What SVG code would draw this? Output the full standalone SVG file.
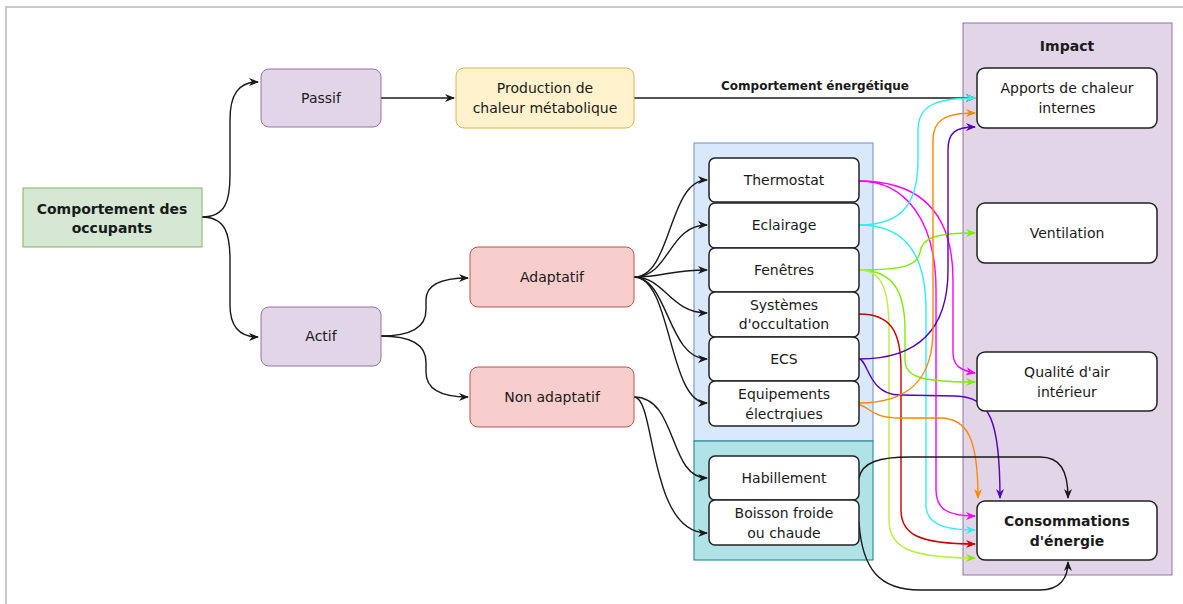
<svg xmlns="http://www.w3.org/2000/svg" width="1183" height="604" viewBox="0 0 1183 604">
<defs>
<style>
text{font-family:"DejaVu Sans","Liberation Sans",Arial,sans-serif;font-size:14px;fill:#1a1a1a;text-anchor:middle}
.b{font-weight:bold}
.lbl{font-size:12px;font-weight:bold}
.c{fill:none;stroke-width:1.4}
.k{stroke:#1a1a1a}
.n{fill:#fff;stroke:#222;stroke-width:1.5}
</style>
<marker id="ak" viewBox="0 0 10 8" refX="9" refY="4" markerWidth="10" markerHeight="8" markerUnits="userSpaceOnUse" orient="auto"><path d="M0,0 L10,4 L0,8 L3,4 Z" fill="#1a1a1a"/></marker>
<marker id="am" viewBox="0 0 10 8" refX="9" refY="4" markerWidth="10" markerHeight="8" markerUnits="userSpaceOnUse" orient="auto"><path d="M0,0 L10,4 L0,8 L3,4 Z" fill="#ff00ff"/></marker>
<marker id="ac" viewBox="0 0 10 8" refX="9" refY="4" markerWidth="10" markerHeight="8" markerUnits="userSpaceOnUse" orient="auto"><path d="M0,0 L10,4 L0,8 L3,4 Z" fill="#33eeee"/></marker>
<marker id="ag" viewBox="0 0 10 8" refX="9" refY="4" markerWidth="10" markerHeight="8" markerUnits="userSpaceOnUse" orient="auto"><path d="M0,0 L10,4 L0,8 L3,4 Z" fill="#80ee00"/></marker>
<marker id="ar" viewBox="0 0 10 8" refX="9" refY="4" markerWidth="10" markerHeight="8" markerUnits="userSpaceOnUse" orient="auto"><path d="M0,0 L10,4 L0,8 L3,4 Z" fill="#cc0000"/></marker>
<marker id="ap" viewBox="0 0 10 8" refX="9" refY="4" markerWidth="10" markerHeight="8" markerUnits="userSpaceOnUse" orient="auto"><path d="M0,0 L10,4 L0,8 L3,4 Z" fill="#5500bb"/></marker>
<marker id="ao" viewBox="0 0 10 8" refX="9" refY="4" markerWidth="10" markerHeight="8" markerUnits="userSpaceOnUse" orient="auto"><path d="M0,0 L10,4 L0,8 L3,4 Z" fill="#ff8800"/></marker>
</defs>
<rect width="1183" height="604" fill="#fff"/>
<path d="M6,604 L6,7 L1183,7" fill="none" stroke="#c8c8c8" stroke-width="2"/>

<g id="containers">
<rect id="impact" x="963" y="23" width="209" height="552" fill="#e1d5e7" stroke="#9673a6" stroke-width="1"/>
<text class="b" x="1067" y="51">Impact</text>
<rect id="adaptatif-group" x="694" y="143" width="179" height="298" fill="#dae8fc" stroke="#6c8ebf" stroke-width="1"/>
<rect id="nonadaptatif-group" x="694" y="441" width="179" height="119" fill="#b0e3e6" stroke="#0e8088" stroke-width="1"/>
</g>

<g id="connectors">
<path class="c k" d="M202,217 C226,217 230,200 230,175 L230,120 C230,95 238,82 258,82" marker-end="url(#ak)"/>
<path class="c k" d="M202,217 C226,217 230,235 230,260 L230,305 C230,325 238,337 258,337" marker-end="url(#ak)"/>
<path class="c k" d="M381,98 L454,98" marker-end="url(#ak)"/>
<path class="c k" d="M381,336 C405,336 426,330 426,310 L426,300 C426,285 440,278 468,278" marker-end="url(#ak)"/>
<path class="c k" d="M381,336 C405,336 426,342 426,362 L426,372 C426,388 440,397 468,397" marker-end="url(#ak)"/>
<path class="c k" d="M634,277 C672,277 668,180 707,180" marker-end="url(#ak)"/>
<path class="c k" d="M634,277 C670,277 668,225 707,225" marker-end="url(#ak)"/>
<path class="c k" d="M634,277 C665,277 668,270 707,270" marker-end="url(#ak)"/>
<path class="c k" d="M634,277 C665,277 670,313 707,313" marker-end="url(#ak)"/>
<path class="c k" d="M634,277 C668,277 668,359 707,359" marker-end="url(#ak)"/>
<path class="c k" d="M634,277 C672,277 668,403 707,403" marker-end="url(#ak)"/>
<path class="c k" d="M634,397 C678,397 668,478 707,478" marker-end="url(#ak)"/>
<path class="c k" d="M634,397 C656,397 648,533 707,533" marker-end="url(#ak)"/>
<path class="c k" d="M634,98 L975,98" marker-end="url(#ak)"/>
<text class="lbl" x="815" y="90">Comportement énergétique</text>

<path class="c" stroke="#ff00ff" d="M859,181 C922,181 953,215 953,280 L953,352 C953,366 960,370 975,373" marker-end="url(#am)"/>
<path class="c" stroke="#ff00ff" d="M859,181 C905,181 936,220 936,290 L936,490 C936,508 946,516 975,516" marker-end="url(#am)"/>
<path class="c" stroke="#33eeee" d="M859,225 C905,225 918,200 918,160 L918,130 C918,106 935,98 975,98" marker-end="url(#ac)"/>
<path class="c" stroke="#33eeee" d="M859,225 C902,225 926,250 926,310 L926,505 C926,522 940,530 975,530" marker-end="url(#ac)"/>
<path class="c" stroke="#80ee00" d="M859,270 C905,270 918,265 920,252 C922,238 935,233 975,233" marker-end="url(#ag)"/>
<path class="c" stroke="#80ee00" d="M859,270 C892,270 905,290 905,330 L905,360 C905,376 918,382 975,382" marker-end="url(#ag)"/>
<path class="c" stroke="#b8f040" d="M859,270 C882,270 889,290 889,330 L889,520 C889,546 906,558 975,558" marker-end="url(#ag)"/>
<path class="c" stroke="#cc0000" d="M859,314 C890,314 901,330 901,370 L901,510 C901,534 918,544 975,544" marker-end="url(#ar)"/>
<path class="c" stroke="#5500bb" d="M859,359 C918,359 948,330 948,270 L948,150 C948,133 955,127 975,127" marker-end="url(#ap)"/>
<path class="c" stroke="#5500bb" d="M859,359 C868,359 868,395 900,395 L955,396 C990,397 1000,420 1000,498" marker-end="url(#ap)"/>
<path class="c" stroke="#ff8800" d="M859,403 C908,403 933,380 933,330 L933,140 C933,120 945,113 975,113" marker-end="url(#ao)"/>
<path class="c" stroke="#ff8800" d="M859,405 C868,405 870,418 900,418 L940,418 C968,418 978,440 978,498" marker-end="url(#ao)"/>
<path class="c k" d="M859,478 C862,462 880,457 910,457 L1040,457 C1060,457 1068,470 1068,498" marker-end="url(#ak)"/>
<path class="c k" d="M859,522 C862,570 880,590 920,590 L1040,590 C1060,590 1068,578 1068,562" marker-end="url(#ak)"/>
</g>

<g id="comportement"><rect x="23" y="188" width="179" height="59" fill="#d5e8d4" stroke="#82b366"/><text class="b" x="112" y="214">Comportement des</text><text class="b" x="112" y="233">occupants</text></g>
<g id="passif"><rect x="261" y="69" width="120" height="58" rx="8" fill="#e1d5e7" stroke="#9673a6"/><text x="321" y="103">Passif</text></g>
<g id="actif"><rect x="261" y="307" width="120" height="59" rx="8" fill="#e1d5e7" stroke="#9673a6"/><text x="321" y="341">Actif</text></g>
<g id="production"><rect x="456" y="68" width="178" height="60" rx="8" fill="#fff2cc" stroke="#d6b656"/><text x="545" y="93">Production de</text><text x="545" y="113">chaleur métabolique</text></g>
<g id="adaptatif"><rect x="470" y="247" width="164" height="60" rx="8" fill="#f8cecc" stroke="#b85450"/><text x="552" y="282">Adaptatif</text></g>
<g id="nonadaptatif"><rect x="470" y="367" width="164" height="60" rx="8" fill="#f8cecc" stroke="#b85450"/><text x="552" y="402">Non adaptatif</text></g>

<g id="thermostat"><rect class="n" x="709" y="158" width="150" height="44" rx="6"/><text x="784" y="185">Thermostat</text></g>
<g id="eclairage"><rect class="n" x="709" y="203" width="150" height="45" rx="6"/><text x="784" y="230">Eclairage</text></g>
<g id="fenetres"><rect class="n" x="709" y="248" width="150" height="44" rx="6"/><text x="784" y="275">Fenêtres</text></g>
<g id="systemes"><rect class="n" x="709" y="292" width="150" height="45" rx="6"/><text x="784" y="310">Systèmes</text><text x="784" y="329">d'occultation</text></g>
<g id="ecs"><rect class="n" x="709" y="337" width="150" height="44" rx="6"/><text x="784" y="364">ECS</text></g>
<g id="equipements"><rect class="n" x="709" y="381" width="150" height="45" rx="6"/><text x="784" y="399">Equipements</text><text x="784" y="419">électrqiues</text></g>
<g id="habillement"><rect class="n" x="709" y="456" width="150" height="44" rx="6"/><text x="784" y="483">Habillement</text></g>
<g id="boisson"><rect class="n" x="709" y="500" width="150" height="45" rx="6"/><text x="784" y="518">Boisson froide</text><text x="784" y="538">ou chaude</text></g>

<g id="apports"><rect class="n" x="977" y="68" width="180" height="60" rx="8"/><text x="1067" y="93">Apports de chaleur</text><text x="1067" y="113">internes</text></g>
<g id="ventilation"><rect class="n" x="977" y="203" width="180" height="60" rx="8"/><text x="1067" y="238">Ventilation</text></g>
<g id="qualite"><rect class="n" x="977" y="352" width="180" height="59" rx="8"/><text x="1067" y="377">Qualité d'air</text><text x="1067" y="397">intérieur</text></g>
<g id="consommations"><rect class="n" x="977" y="501" width="180" height="59" rx="8"/><text class="b" x="1067" y="526">Consommations</text><text class="b" x="1067" y="546">d'énergie</text></g>
</svg>
